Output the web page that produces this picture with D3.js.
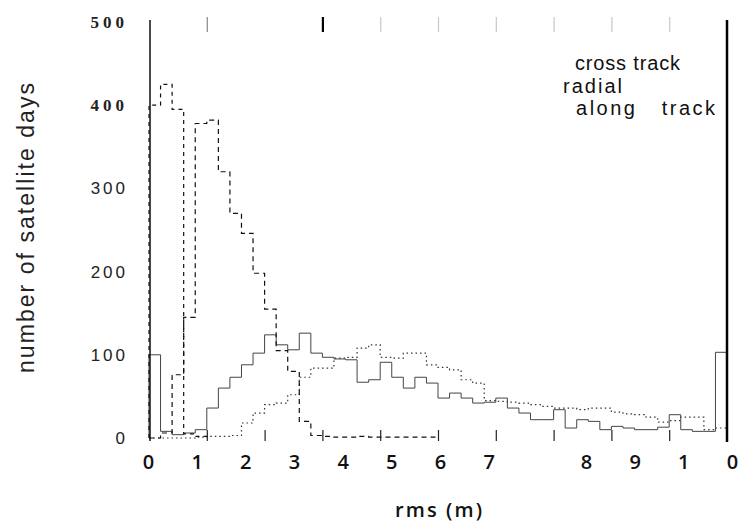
<!DOCTYPE html>
<html>
<head>
<meta charset="utf-8">
<script src="https://cdn.jsdelivr.net/npm/d3@7"></script>
<style>
  body { margin: 0; background: #fff; }
  svg { display: block; }
</style>
</head>
<body>
<svg width="740" height="524"></svg>
<script>
var svg = d3.select("svg"),
    width = +svg.attr("width"),
    height = +svg.attr("height");

// histogram bins of 0.2 m, from 0 to 10 m
var binWidth = 0.2;

var crossTrack = [400, 425, 395, 5, 2, 0, 0, 0, 0, 0,
                  0, 0, 0, 0, 0, 0, 0, 0, 0, 0,
                  0, 0, 0, 0, 0, 0, 0, 0, 0, 0,
                  0, 0, 0, 0, 0, 0, 0, 0, 0, 0,
                  0, 0, 0, 0, 0, 0, 0, 0, 0, 0];

var radial = [0, 6, 76, 145, 378, 382, 320, 270, 246, 198,
              155, 105, 80, 20, 3, 2, 1, 1, 2, 1,
              1, 1, 1, 1, 1, 0, 0, 0, 0, 0,
              0, 0, 0, 0, 0, 0, 0, 0, 0, 0,
              0, 0, 0, 0, 0, 0, 0, 0, 0, 0];

var alongTrack = [100, 8, 4, 6, 10, 36, 60, 73, 88, 102,
                  124, 112, 106, 126, 102, 97, 95, 94, 67, 70,
                  91, 73, 60, 73, 66, 48, 54, 48, 42, 43,
                  48, 36, 30, 22, 22, 34, 12, 22, 20, 10,
                  14, 12, 10, 10, 13, 28, 10, 8, 8, 103];

var dottedSeries = [0, 0, 0, 0, 1, 2, 2, 3, 18, 30,
                    40, 42, 52, 73, 84, 84, 96, 97, 108, 112,
                    97, 96, 102, 102, 88, 85, 82, 70, 66, 45,
                    44, 43, 42, 40, 38, 36, 36, 34, 36, 36,
                    31, 29, 28, 25, 19, 21, 25, 25, 10, 12];

var yTicks = [0, 100, 200, 300, 400, 500];
var topTicks = [1, 2, 3, 4, 5, 6, 7, 8, 9];
var bottomTicks = [1, 2, 3, 4, 5, 6, 7, 8, 9];
// tick labels as printed (scanned, shifted)
var xLabelSlots = [0, 1, 2, 3, 4, 5, 6, 7, 9, 10, 11, 12];
var xLabelTexts = ["0", "1", "2", "3", "4", "5", "6", "7", "8", "9", "1", "0"];
var legendNames = ["cross track", "radial", "along   track"];

var x = d3.scaleLinear().domain([0, 10]).range([149, 727]);
var y = d3.scaleLinear().domain([0, 500]).range([438, 22]);
var xLabel = d3.scaleLinear().domain([0, 12]).range([148, 732]);

function stepPoints(values) {
    var last = values.length - 1;
    while (last > 0 && values[last] === 0) last--;
    var pts = [[0, 0]];
    for (var i = 0; i <= last; i++) pts.push([i * binWidth, values[i]]);
    pts.push([(last + 1) * binWidth, values[last]]);
    pts.push([(last + 1) * binWidth, 0]);
    return pts;
}

var line = d3.line()
    .x(d => x(d[0]))
    .y(d => y(d[1]))
    .curve(d3.curveStepAfter);

var series = [
    { values: dottedSeries, dash: "1.5,3", w: 1.2, color: "#333" },
    { values: alongTrack, dash: null, w: 1, color: "#444" },
    { values: radial, dash: "5,4", w: 1.2, color: "#111" },
    { values: crossTrack, dash: "4,4", w: 1.2, color: "#111" }
];

svg.append("g").attr("class", "hist")
    .selectAll("path")
    .data(series)
    .enter().append("path")
    .attr("d", d => line(stepPoints(d.values)))
    .attr("fill", "none")
    .attr("stroke", d => d.color)
    .attr("stroke-width", d => d.w)
    .attr("stroke-dasharray", d => d.dash);

// left axis
var yAxis = svg.append("g")
    .attr("transform", "translate(150,0)")
    .call(d3.axisLeft(y).tickValues(yTicks).tickSize(0).tickPadding(22));
yAxis.select(".domain").remove();
yAxis.selectAll("text")
    .attr("fill", "#222")
    .style("font-family", d => d >= 400 ? "'Liberation Serif', serif" : "'Liberation Sans', Arial, sans-serif")
    .style("font-weight", d => d >= 400 ? "bold" : "normal")
    .style("font-size", "17px")
    .style("letter-spacing", d => d >= 400 ? "4px" : "3px");

svg.append("line")
    .attr("x1", 150).attr("x2", 150)
    .attr("y1", 20).attr("y2", 441)
    .attr("stroke", "#111").attr("stroke-width", 1.5);

// right frame line
svg.append("line")
    .attr("x1", x(10)).attr("x2", x(10))
    .attr("y1", 20).attr("y2", 442)
    .attr("stroke", "#000").attr("stroke-width", 2.5);

// top ticks
var topAxis = svg.append("g")
    .attr("transform", "translate(0,17)")
    .call(d3.axisTop(x).tickValues(topTicks).tickSize(-15).tickFormat(""));
topAxis.select(".domain").remove();
topAxis.selectAll(".tick line")
    .attr("stroke", d => d === 3 ? "#000" : (d === 1 ? "#888" : "#c8c8c8"))
    .attr("stroke-width", d => d === 3 ? 2.2 : 1.2)
    .attr("opacity", d => d === 2 ? 0 : 1);

// bottom ticks (inward)
var bottomAxis = svg.append("g")
    .attr("transform", "translate(0,441)")
    .call(d3.axisBottom(x).tickValues(bottomTicks).tickSize(-11).tickFormat(""));
bottomAxis.select(".domain").remove();
bottomAxis.selectAll(".tick line").attr("stroke", "#222").attr("stroke-width", 1.2);

// bottom labels
var labelAxis = svg.append("g")
    .attr("transform", "translate(0,452)")
    .call(d3.axisBottom(xLabel).tickValues(xLabelSlots).tickSize(0)
        .tickFormat((d, i) => xLabelTexts[i]));
labelAxis.select(".domain").remove();
labelAxis.selectAll("text")
    .attr("fill", "#111")
    .style("font-family", "'Open Sans', sans-serif")
    .style("font-weight", "600")
    .style("font-size", "20px");

// axis titles
svg.append("text")
    .attr("transform", "translate(34,228) rotate(-90)")
    .attr("text-anchor", "middle")
    .attr("textLength", 290)
    .attr("lengthAdjust", "spacing")
    .style("font-family", "'Liberation Sans', Arial, sans-serif")
    .style("font-size", "23px")
    .attr("fill", "#222")
    .text("number of satellite days");

svg.append("text")
    .attr("x", 395).attr("y", 517)
    .attr("textLength", 87)
    .attr("lengthAdjust", "spacing")
    .style("font-family", "'Open Sans', sans-serif")
    .style("font-weight", "600")
    .style("font-size", "20px")
    .attr("fill", "#111")
    .text("rms (m)");

// legend labels
var legendPos = [[575, 70, 105], [563, 93, 59], [576, 115, 139]];
svg.append("g").selectAll("text")
    .data(legendNames)
    .enter().append("text")
    .attr("x", (d, i) => legendPos[i][0])
    .attr("y", (d, i) => legendPos[i][1])
    .attr("textLength", (d, i) => legendPos[i][2])
    .attr("lengthAdjust", "spacing")
    .style("font-family", "'Liberation Sans', Arial, sans-serif")
    .style("font-size", "20px")
    .attr("fill", "#111")
    .style("white-space", "pre")
    .text(d => d);
</script>
</body>
</html>
